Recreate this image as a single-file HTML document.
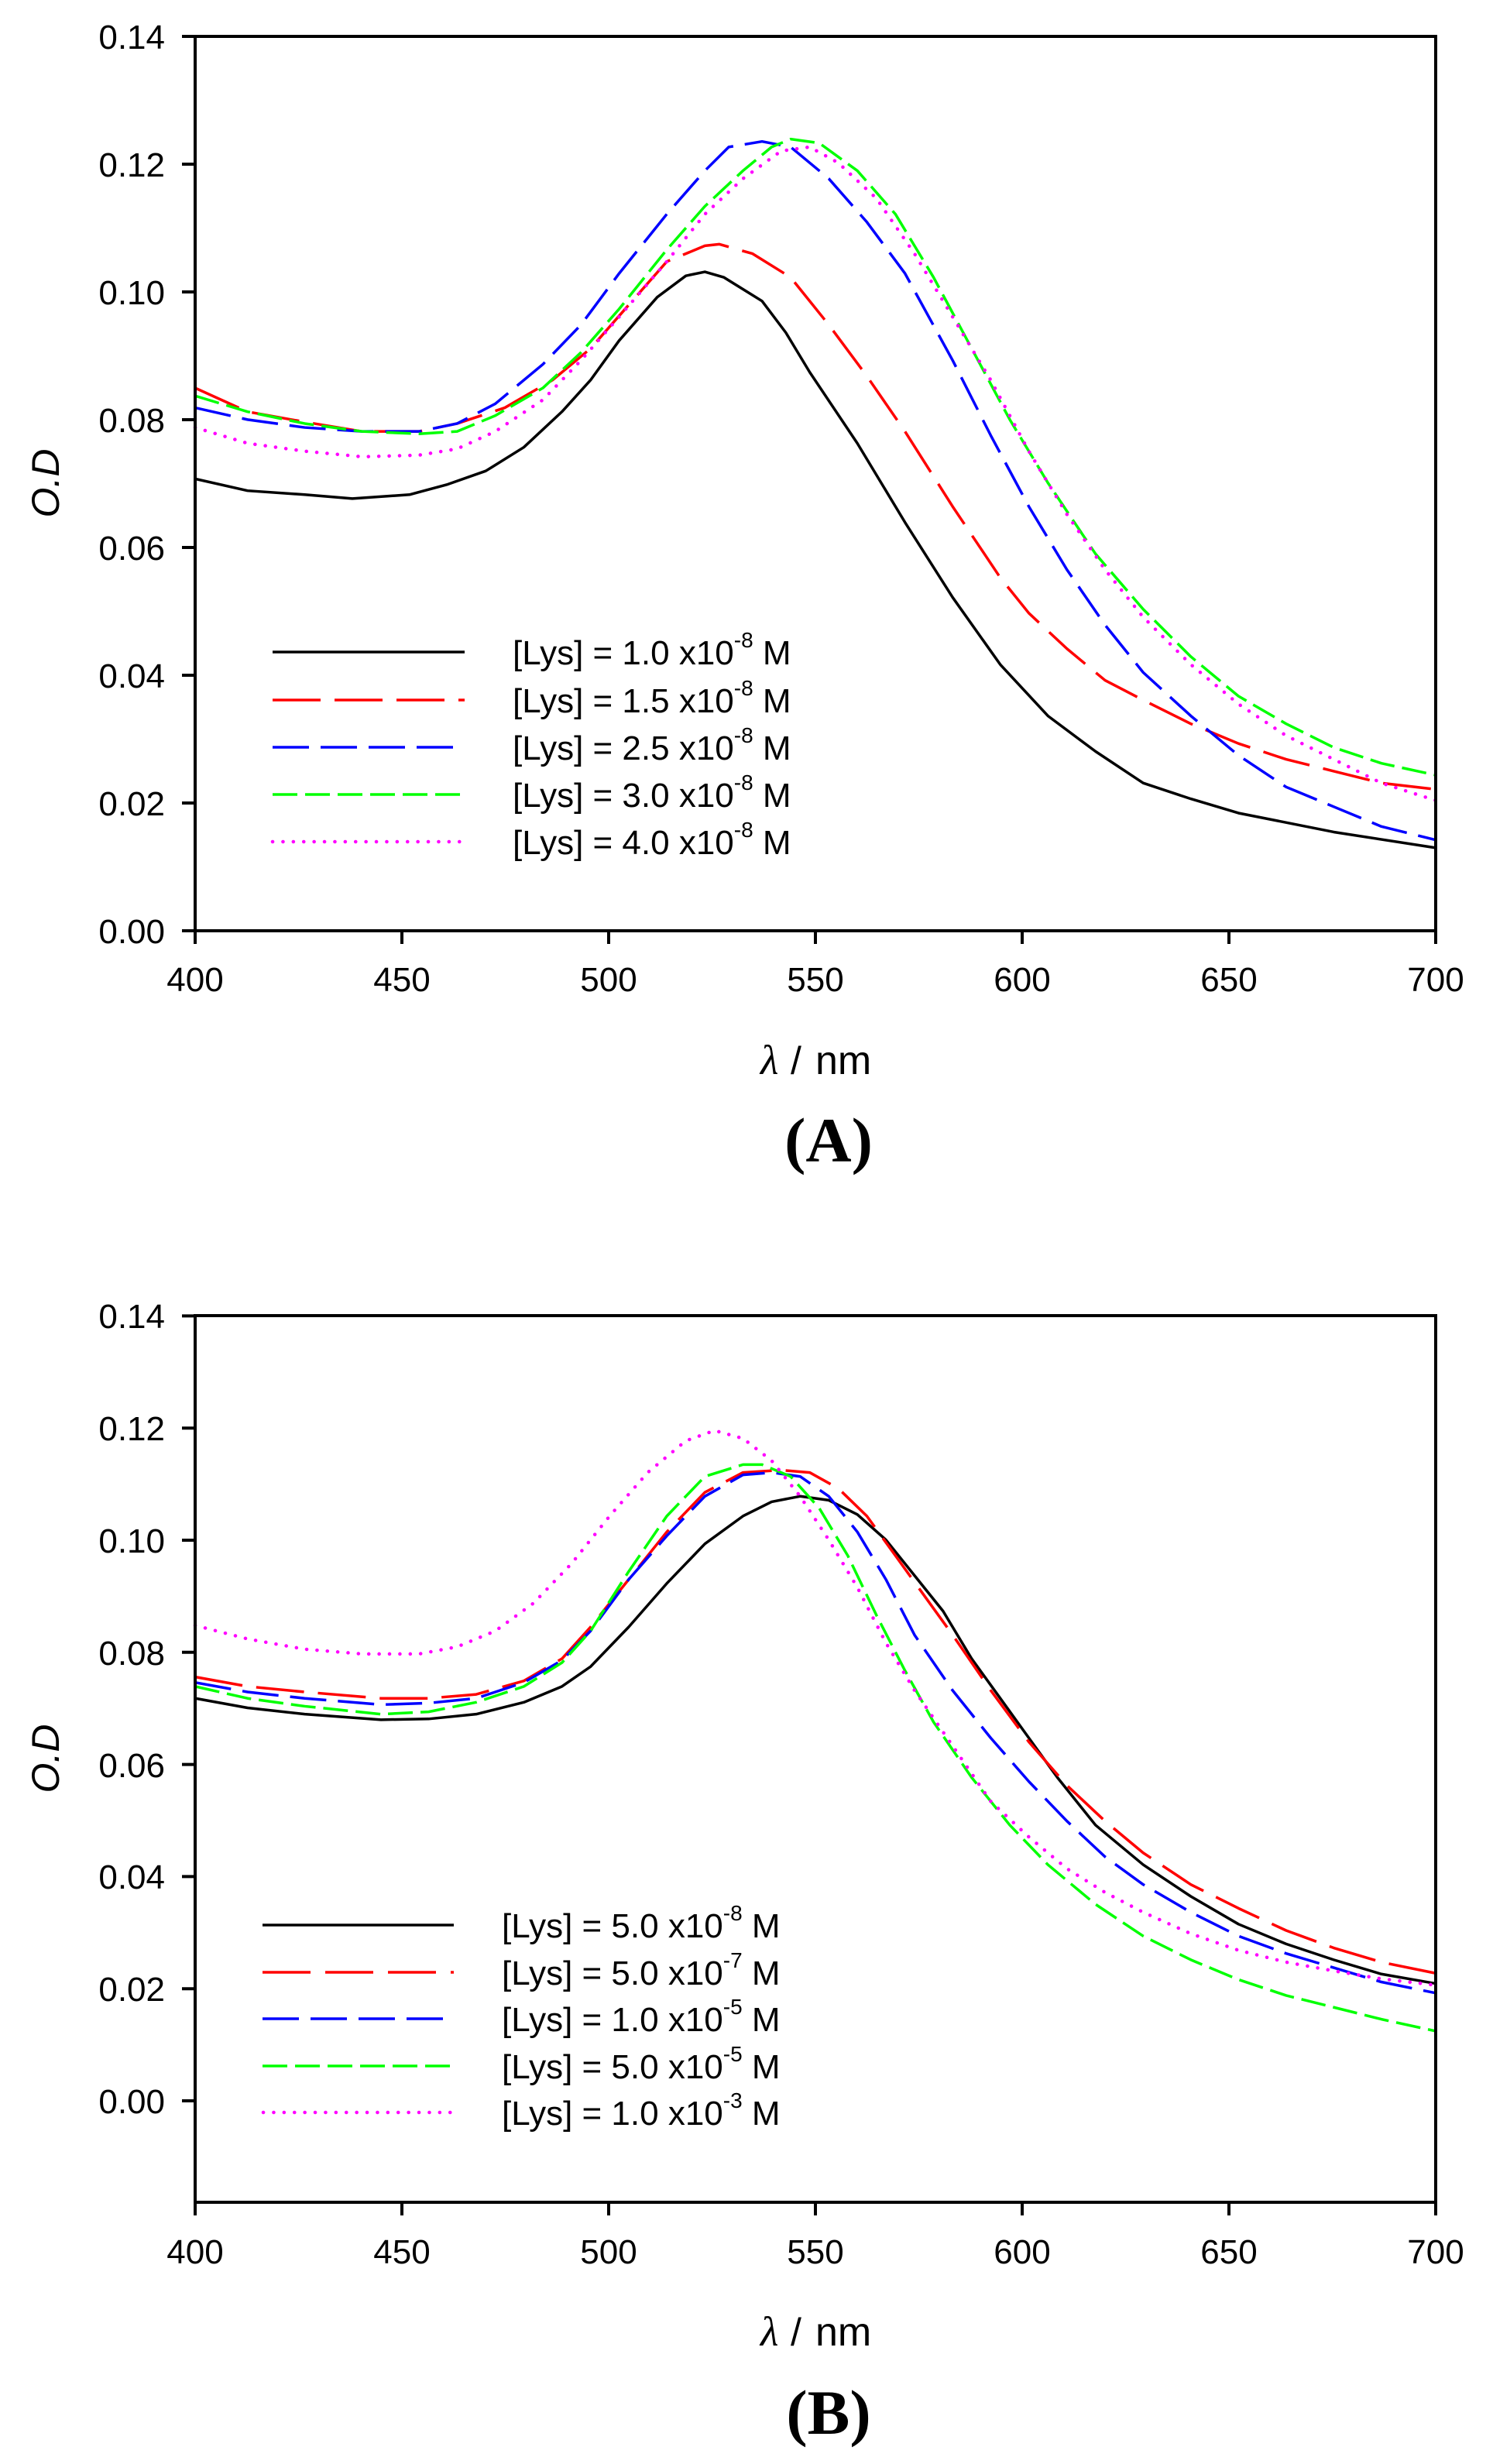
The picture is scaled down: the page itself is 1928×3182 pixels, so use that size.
<!DOCTYPE html>
<html>
<head>
<meta charset="utf-8">
<style>
html,body{margin:0;padding:0;background:#fff;}
svg{display:block;}
text{font-family:"Liberation Sans",Arial,sans-serif;fill:#000;}
.tl{font-size:44px;}
.lg{font-size:44px;}
.sup{font-size:28px;}
.ser{font-family:"Liberation Serif","Times New Roman",serif;}
.c{fill:none;stroke-linejoin:round;vector-effect:non-scaling-stroke;}
</style>
</head>
<body>
<svg width="1928" height="3182" viewBox="0 0 1928 3182" xmlns="http://www.w3.org/2000/svg">
<rect x="0" y="0" width="1928" height="3182" fill="#fff"/>

<!-- ================= PANEL A ================= -->
<g transform="matrix(1.23041 0 0 1.02032 -0.23 1.09)">
<polyline class="c" stroke="#000" stroke-width="3.5" points="205,605 260,620 320,625 370,630 430,625 470,612 510,595 550,565 590,520 620,480 650,430 690,375 720,348 740,343 760,350 800,380 825,420 850,470 900,560 950,660 1000,755 1050,840 1100,905 1150,950 1200,990 1250,1010 1300,1028 1400,1052 1507,1072"/>
<polyline class="c" stroke="#ff0000" stroke-width="3.5" stroke-dasharray="62 18" points="205,490 260,520 320,533 380,545 440,545 480,535 530,515 580,480 620,440 660,385 700,330 740,310 755,308 790,320 830,350 870,410 910,475 950,545 1000,640 1050,730 1080,775 1120,820 1160,860 1200,885 1250,915 1300,940 1350,960 1400,975 1450,990 1507,998"/>
<polyline class="c" stroke="#0000ff" stroke-width="3.5" stroke-dasharray="47 15" points="205,515 260,530 320,540 380,545 440,545 480,535 520,510 570,460 610,410 650,345 700,270 740,215 765,185 800,178 830,185 870,225 910,280 950,345 1000,455 1040,550 1080,640 1120,720 1160,790 1200,850 1250,905 1300,955 1350,995 1400,1020 1450,1045 1507,1062"/>
<polyline class="c" stroke="#00ff00" stroke-width="3.5" stroke-dasharray="32 10" points="205,500 260,520 320,535 380,545 440,548 480,545 520,525 570,490 610,445 650,390 700,315 740,260 780,215 810,185 830,175 860,180 900,215 940,270 980,350 1020,440 1060,530 1100,610 1150,700 1200,770 1250,830 1300,880 1350,915 1400,945 1450,965 1507,980"/>
<polyline class="c" stroke="#ff00ff" stroke-width="4.5" stroke-linecap="round" stroke-dasharray="0.1 13.3" points="205,540 260,560 320,570 380,577 440,575 480,567 520,545 570,505 610,455 650,400 700,330 740,270 780,225 820,190 850,185 880,205 920,250 960,320 1000,400 1040,480 1080,570 1120,650 1160,720 1200,780 1250,840 1300,890 1350,930 1400,960 1450,990 1507,1012"/>
</g>

<!-- frame A -->
<rect x="252" y="47" width="1602" height="1155" fill="none" stroke="#000" stroke-width="4"/>
<!-- y ticks A -->
<g stroke="#000" stroke-width="4">
<line x1="235" y1="1202" x2="252" y2="1202"/>
<line x1="235" y1="1037" x2="252" y2="1037"/>
<line x1="235" y1="872" x2="252" y2="872"/>
<line x1="235" y1="707" x2="252" y2="707"/>
<line x1="235" y1="542" x2="252" y2="542"/>
<line x1="235" y1="377" x2="252" y2="377"/>
<line x1="235" y1="212" x2="252" y2="212"/>
<line x1="235" y1="47" x2="252" y2="47"/>
<line x1="252" y1="1202" x2="252" y2="1219"/>
<line x1="519" y1="1202" x2="519" y2="1219"/>
<line x1="786" y1="1202" x2="786" y2="1219"/>
<line x1="1053" y1="1202" x2="1053" y2="1219"/>
<line x1="1320" y1="1202" x2="1320" y2="1219"/>
<line x1="1587" y1="1202" x2="1587" y2="1219"/>
<line x1="1854" y1="1202" x2="1854" y2="1219"/>
</g>
<g class="tl" text-anchor="end">
<text x="213" y="1218">0.00</text>
<text x="213" y="1053">0.02</text>
<text x="213" y="888">0.04</text>
<text x="213" y="723">0.06</text>
<text x="213" y="558">0.08</text>
<text x="213" y="393">0.10</text>
<text x="213" y="228">0.12</text>
<text x="213" y="63">0.14</text>
</g>
<g class="tl" text-anchor="middle">
<text x="252" y="1280">400</text>
<text x="519" y="1280">450</text>
<text x="786" y="1280">500</text>
<text x="1053" y="1280">550</text>
<text x="1320" y="1280">600</text>
<text x="1587" y="1280">650</text>
<text x="1854" y="1280">700</text>
</g>
<!-- axis titles A -->
<text transform="translate(76,624) rotate(-90)" text-anchor="middle" font-size="50" font-style="italic">O.D</text>
<text x="982" y="1387" class="ser" font-size="54" font-style="italic">λ</text>
<text x="1021" y="1387" font-size="50">/</text>
<text x="1053" y="1387" font-size="52">nm</text>
<text x="1070" y="1500" class="ser" font-size="82" font-weight="bold" text-anchor="middle">(A)</text>

<!-- legend A -->
<line x1="352" y1="842" x2="600" y2="842" stroke="#000" stroke-width="3.5"/>
<line x1="352" y1="904" x2="600" y2="904" stroke="#ff0000" stroke-width="3.5" stroke-dasharray="62 18"/>
<line x1="352" y1="965" x2="600" y2="965" stroke="#0000ff" stroke-width="3.5" stroke-dasharray="47 15"/>
<line x1="352" y1="1026" x2="600" y2="1026" stroke="#00ff00" stroke-width="3.5" stroke-dasharray="32 10"/>
<line x1="352" y1="1087" x2="600" y2="1087" stroke="#ff00ff" stroke-width="4.5" stroke-linecap="round" stroke-dasharray="0.1 13.3"/>
<g class="lg">
<text x="662" y="858">[Lys] = 1.0 x10<tspan class="sup" dy="-22">-8</tspan><tspan dy="22"> M</tspan></text>
<text x="662" y="920">[Lys] = 1.5 x10<tspan class="sup" dy="-22">-8</tspan><tspan dy="22"> M</tspan></text>
<text x="662" y="981">[Lys] = 2.5 x10<tspan class="sup" dy="-22">-8</tspan><tspan dy="22"> M</tspan></text>
<text x="662" y="1042">[Lys] = 3.0 x10<tspan class="sup" dy="-22">-8</tspan><tspan dy="22"> M</tspan></text>
<text x="662" y="1103">[Lys] = 4.0 x10<tspan class="sup" dy="-22">-8</tspan><tspan dy="22"> M</tspan></text>
</g>

<!-- ================= PANEL B ================= -->
<g transform="matrix(1.23041 0 0 1.02321 -0.23 1579.28)">
<polyline class="c" stroke="#000" stroke-width="3.5" points="205,600 260,612 320,620 400,627 450,626 500,620 550,605 590,585 620,560 660,510 700,455 740,405 780,370 810,352 840,345 870,350 900,368 930,400 960,445 990,490 1020,550 1050,600 1080,650 1110,700 1150,760 1200,810 1250,850 1300,885 1350,910 1400,930 1450,948 1507,960"/>
<polyline class="c" stroke="#ff0000" stroke-width="3.5" stroke-dasharray="62 18" points="205,573 260,585 320,592 400,600 450,600 500,595 550,578 590,550 620,510 660,450 700,390 740,340 780,315 820,312 850,315 880,335 910,370 940,420 970,470 1000,520 1040,590 1080,655 1120,710 1160,755 1200,795 1250,835 1300,865 1350,893 1400,915 1450,933 1507,947"/>
<polyline class="c" stroke="#0000ff" stroke-width="3.5" stroke-dasharray="47 15" points="205,580 260,592 320,600 400,608 450,606 500,600 550,580 590,552 620,515 660,450 700,395 740,345 780,318 810,315 840,320 870,345 900,390 930,450 960,520 1000,590 1040,650 1080,705 1120,755 1160,800 1200,835 1250,870 1300,900 1350,922 1400,940 1450,958 1507,972"/>
<polyline class="c" stroke="#00ff00" stroke-width="3.5" stroke-dasharray="32 10" points="205,585 260,600 320,610 400,620 450,617 500,605 550,585 590,555 620,515 660,440 700,370 740,320 780,305 800,305 830,320 860,360 890,420 920,495 950,565 980,630 1020,700 1060,760 1100,810 1150,860 1200,900 1250,930 1300,955 1350,975 1400,990 1450,1005 1507,1020"/>
<polyline class="c" stroke="#ff00ff" stroke-width="4.5" stroke-linecap="round" stroke-dasharray="0.1 13.3" points="205,508 260,525 320,538 380,544 440,544 480,535 520,515 560,480 600,430 640,370 680,315 720,275 750,262 780,272 810,300 840,345 870,400 900,460 930,530 960,590 1000,660 1040,730 1080,775 1120,815 1160,845 1200,870 1250,897 1300,918 1350,933 1400,944 1450,954 1507,962"/>
</g>

<!-- frame B -->
<rect x="252" y="1699" width="1602" height="1145" fill="none" stroke="#000" stroke-width="4"/>
<g stroke="#000" stroke-width="4">
<line x1="235" y1="2713" x2="252" y2="2713"/>
<line x1="235" y1="2568.2" x2="252" y2="2568.2"/>
<line x1="235" y1="2423.4" x2="252" y2="2423.4"/>
<line x1="235" y1="2278.6" x2="252" y2="2278.6"/>
<line x1="235" y1="2133.8" x2="252" y2="2133.8"/>
<line x1="235" y1="1989" x2="252" y2="1989"/>
<line x1="235" y1="1844.2" x2="252" y2="1844.2"/>
<line x1="235" y1="1699.4" x2="252" y2="1699.4"/>
<line x1="252" y1="2844" x2="252" y2="2861"/>
<line x1="519" y1="2844" x2="519" y2="2861"/>
<line x1="786" y1="2844" x2="786" y2="2861"/>
<line x1="1053" y1="2844" x2="1053" y2="2861"/>
<line x1="1320" y1="2844" x2="1320" y2="2861"/>
<line x1="1587" y1="2844" x2="1587" y2="2861"/>
<line x1="1854" y1="2844" x2="1854" y2="2861"/>
</g>
<g class="tl" text-anchor="end">
<text x="213" y="2729">0.00</text>
<text x="213" y="2584">0.02</text>
<text x="213" y="2439">0.04</text>
<text x="213" y="2295">0.06</text>
<text x="213" y="2150">0.08</text>
<text x="213" y="2005">0.10</text>
<text x="213" y="1860">0.12</text>
<text x="213" y="1715">0.14</text>
</g>
<g class="tl" text-anchor="middle">
<text x="252" y="2923">400</text>
<text x="519" y="2923">450</text>
<text x="786" y="2923">500</text>
<text x="1053" y="2923">550</text>
<text x="1320" y="2923">600</text>
<text x="1587" y="2923">650</text>
<text x="1854" y="2923">700</text>
</g>
<text transform="translate(76,2271) rotate(-90)" text-anchor="middle" font-size="50" font-style="italic">O.D</text>
<text x="982" y="3029" class="ser" font-size="54" font-style="italic">λ</text>
<text x="1021" y="3029" font-size="50">/</text>
<text x="1053" y="3029" font-size="52">nm</text>
<text x="1070" y="3143" class="ser" font-size="82" font-weight="bold" text-anchor="middle">(B)</text>

<!-- legend B -->
<line x1="339" y1="2486" x2="586" y2="2486" stroke="#000" stroke-width="3.5"/>
<line x1="339" y1="2547" x2="586" y2="2547" stroke="#ff0000" stroke-width="3.5" stroke-dasharray="62 19"/>
<line x1="339" y1="2607" x2="586" y2="2607" stroke="#0000ff" stroke-width="3.5" stroke-dasharray="47 15"/>
<line x1="339" y1="2668" x2="586" y2="2668" stroke="#00ff00" stroke-width="3.5" stroke-dasharray="32 10"/>
<line x1="340" y1="2728" x2="586" y2="2728" stroke="#ff00ff" stroke-width="4.5" stroke-linecap="round" stroke-dasharray="0.1 13.3"/>
<g class="lg">
<text x="648" y="2502">[Lys] = 5.0 x10<tspan class="sup" dy="-22">-8</tspan><tspan dy="22"> M</tspan></text>
<text x="648" y="2563">[Lys] = 5.0 x10<tspan class="sup" dy="-22">-7</tspan><tspan dy="22"> M</tspan></text>
<text x="648" y="2623">[Lys] = 1.0 x10<tspan class="sup" dy="-22">-5</tspan><tspan dy="22"> M</tspan></text>
<text x="648" y="2684">[Lys] = 5.0 x10<tspan class="sup" dy="-22">-5</tspan><tspan dy="22"> M</tspan></text>
<text x="648" y="2744">[Lys] = 1.0 x10<tspan class="sup" dy="-22">-3</tspan><tspan dy="22"> M</tspan></text>
</g>
</svg>
</body>
</html>
